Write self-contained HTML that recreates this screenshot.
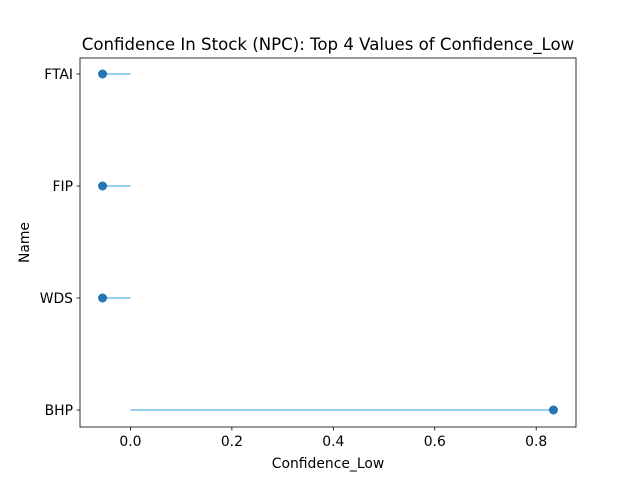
<!DOCTYPE html>
<html><head><meta charset="utf-8"><style>
body{margin:0;background:#fff;font-family:"Liberation Sans","DejaVu Sans",sans-serif;}
svg text{font-family:"DejaVu Sans","Liberation Sans",sans-serif;}
</style></head><body>
<svg id="chart" width="640" height="480" xmlns="http://www.w3.org/2000/svg"></svg>
<script>
const categories = ["FTAI","FIP","WDS","BHP"];
const values = [-0.055,-0.055,-0.055,0.834];
const xTicks = [0.0,0.2,0.4,0.6,0.8];
const xTickLabels = ["0.0","0.2","0.4","0.6","0.8"];

const svg = document.getElementById('chart');
const NS = "http://www.w3.org/2000/svg";
const L=80,R=576,T=58,B=427;
const FS=13.9;
const vmin=Math.min(0,...values), vmax=Math.max(0,...values);
const pad=(vmax-vmin)*0.05;
const x0=vmin-pad, x1=vmax+pad;
const xs=v=>L+(v-x0)/(x1-x0)*(R-L);
const n=categories.length;
const yTop=74, yBot=410;
const ys=i=>yTop+i*(yBot-yTop)/(n-1);
function mk(tag,attrs,parent){const e=document.createElementNS(NS,tag);for(const k in attrs)e.setAttribute(k,attrs[k]);(parent||svg).appendChild(e);return e;}

const title=mk('text',{x:(L+R)/2,y:50,'text-anchor':'middle','font-size':16.6,fill:'#000'});
title.textContent="Confidence In Stock (NPC): Top 4 Values of Confidence_Low";



categories.forEach((c,i)=>{
  const y=ys(i);
  const ln=mk('line',{x1:xs(0),x2:xs(values[i]),y1:y,y2:y,stroke:'#74c0e8','stroke-width':1.5});
  
  
  const pt=mk('circle',{cx:xs(values[i]),cy:y,r:4.5,fill:'#1f77b4'});
  
  
  const tk=mk('line',{x1:L-3.5,x2:L,y1:y,y2:y,stroke:'#000','stroke-width':0.8});
  
  
  const lb=mk('text',{x:L-7,y:y+5,'text-anchor':'end','font-size':FS,fill:'#000'});
  lb.textContent=c;
  
  
});

xTicks.forEach((v,i)=>{
  const x=xs(v);
  const tk=mk('line',{x1:x,x2:x,y1:B,y2:B+3.5,stroke:'#000','stroke-width':0.8});
  
  
  const lb=mk('text',{x:x,y:B+19,'text-anchor':'middle','font-size':FS,fill:'#000'});
  lb.textContent=xTickLabels[i];
  
  
});

const frame=mk('rect',{x:L,y:T,width:R-L,height:B-T,fill:'none',stroke:'#000','stroke-width':0.8});



const xl=mk('text',{x:(L+R)/2,y:468,'text-anchor':'middle','font-size':FS,fill:'#000'});
xl.textContent="Confidence_Low";


const yl=mk('text',{x:29,y:(T+B)/2,'text-anchor':'middle','font-size':FS,fill:'#000',transform:`rotate(-90 29 ${(T+B)/2})`});
yl.textContent="Name";


</script>
</body></html>
